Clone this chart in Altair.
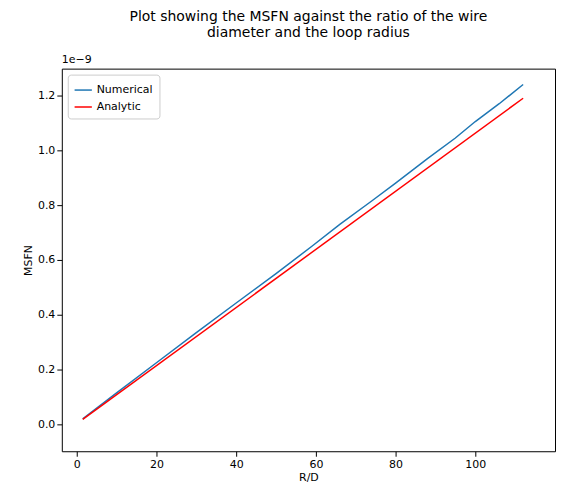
import altair as alt
import pandas as pd

# values in units of 1e-9
num_x = [1.5, 10, 20, 30, 40, 50, 59, 66, 74, 80, 88, 95, 100, 106, 112]
num_y = [0.02, 0.115, 0.225, 0.335, 0.443, 0.55, 0.65, 0.73, 0.815, 0.88, 0.97, 1.045, 1.105, 1.17, 1.24]
ana_x = [1.5, 112]
ana_y = [0.018, 1.19]

df = pd.concat([
    pd.DataFrame({"x": num_x, "y": num_y, "series": "Numerical"}),
    pd.DataFrame({"x": ana_x, "y": ana_y, "series": "Analytic"}),
])

font = "DejaVu Sans"
lines = alt.Chart(df).mark_line(strokeWidth=1.5, clip=True).encode(
    x=alt.X("x:Q", title="R/D", scale=alt.Scale(domain=[-3.75, 120], nice=False, zero=False),
            axis=alt.Axis(values=[0, 20, 40, 60, 80, 100], grid=False, domain=False,
                          tickColor="black", labelColor="black", titleColor="black",
                          titleFontWeight="normal", labelFontSize=11, titleFontSize=11,
                          titlePadding=2)),
    y=alt.Y("y:Q", title="MSFN", scale=alt.Scale(domain=[-0.098, 1.298], nice=False, zero=False),
            axis=alt.Axis(values=[0, 0.2, 0.4, 0.6, 0.8, 1.0, 1.2], format=".1f", grid=False,
                          domain=False, tickColor="black", labelColor="black", titleColor="black",
                          titleFontWeight="normal", labelFontSize=11, titleFontSize=11)),
    color=alt.Color("series:N", title=None,
                    scale=alt.Scale(domain=["Numerical", "Analytic"], range=["#1f77b4", "red"]),
                    legend=alt.Legend(orient="top-left", offset=6, symbolType="stroke",
                                      symbolStrokeWidth=1.5, symbolSize=300, labelFontSize=11,
                                      strokeColor="#cccccc", fillColor="white", padding=6,
                                      cornerRadius=3, labelColor="black")),
    order="x:Q",
)

exp = alt.Chart(pd.DataFrame({"t": ["1e\u22129"]})).mark_text(
    align="left", baseline="bottom", fontSize=11, font=font, color="black"
).encode(text="t:N", x=alt.value(0), y=alt.value(-4))

chart = alt.layer(lines, exp).properties(
    width=495, height=384,
    autosize=alt.AutoSizeParams(type="none"),
    padding={"left": 54, "top": 60, "right": 4, "bottom": 30},
    title=alt.Title(["Plot showing the MSFN against the ratio of the wire",
                     "diameter and the loop radius"],
                    fontSize=14, fontWeight="normal", font=font, color="black", offset=14),
).configure(font=font).configure_view(stroke="black", strokeWidth=1)

chart.save("out.html", embed_options={"renderer": "svg", "actions": False})
